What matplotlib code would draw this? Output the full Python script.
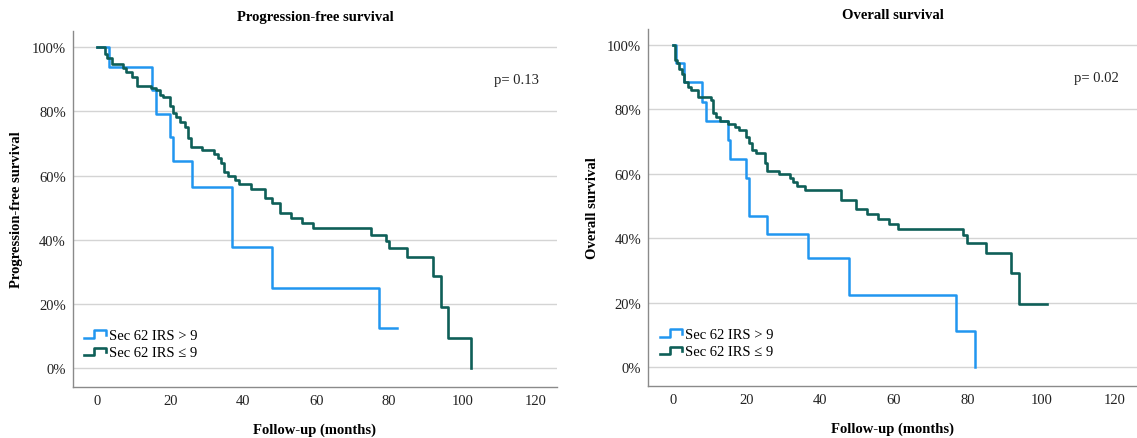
import matplotlib
matplotlib.use("Agg")
import matplotlib.pyplot as plt
from matplotlib.legend_handler import HandlerBase
from matplotlib.lines import Line2D

plt.rcParams["font.family"] = ["Liberation Serif", "DejaVu Serif"]

# Progression-free survival (months, % surviving)
pfs_high_t = [0, 3.2, 15, 16, 20, 20.8, 26, 37, 48, 77.2, 82]
pfs_high_s = [100, 93.8, 86.7, 79.2, 72.1, 64.5, 56.4, 37.7, 25.1, 12.5, 12.5]

pfs_low_t = [0, 2.0, 2.8, 4.0, 7.0, 8.0, 9.4, 11.0, 14.7, 16.0, 17.2, 18.0,
             20.0, 20.8, 21.6, 22.6, 24.0, 24.8, 25.8, 28.8, 32.0, 33.0, 34.0,
             34.8, 35.8, 37.8, 38.8, 42.0, 46.0, 48.0, 50.0, 53.0, 56.0, 59.0,
             75.0, 79.0, 80.0, 85.0, 92.0, 94.2, 96.0, 102.4]
pfs_low_s = [100, 97.8, 96.6, 94.8, 93.4, 92.2, 90.8, 88.0, 87.2, 86.5, 85.1, 84.4,
             81.5, 79.4, 78.1, 76.8, 75.2, 71.6, 69.0, 68.0, 66.7, 65.3, 63.8,
             61.2, 59.8, 58.6, 57.3, 55.8, 52.9, 51.4, 48.4, 46.8, 45.3, 43.7,
             41.6, 39.5, 37.3, 34.5, 28.7, 19.0, 9.4, 0]

# Overall survival
os_high_t = [0, 0.8, 3.0, 7.9, 8.9, 14.9, 15.6, 20.0, 20.8, 25.7, 36.8, 47.9, 76.8, 82.0]
os_high_s = [100, 94.3, 88.4, 82.3, 76.4, 70.6, 64.7, 58.8, 47.0, 41.2, 33.9, 22.5, 11.2, 0]

os_low_t = [0, 0.6, 1.2, 1.8, 2.4, 3.0, 4.0, 5.0, 6.9, 10.3, 10.9, 11.7, 12.7,
            15.0, 17.0, 18.0, 20.0, 20.8, 21.6, 22.6, 25.0, 25.5, 28.7, 31.7,
            32.7, 33.7, 35.8, 45.7, 49.7, 52.7, 55.6, 58.6, 61.1, 78.9, 79.9,
            84.9, 91.8, 94.0, 101.7]
os_low_s = [100, 95.3, 94.3, 92.5, 91.0, 88.6, 87.0, 86.0, 84.0, 82.8, 79.0, 77.6, 76.5,
            75.5, 74.5, 73.5, 71.5, 69.5, 67.5, 66.5, 63.5, 61.0, 60.0, 58.7,
            57.5, 56.3, 55.0, 52.0, 49.0, 47.5, 46.0, 44.5, 43.0, 41.0, 38.5,
            35.3, 29.3, 19.6, 19.6]

labels = ["Sec 62 IRS > 9", "Sec 62 IRS \u2264 9"]
p_values = ["p= 0.13", "p= 0.02"]
titles = ["Progression-free survival", "Overall survival"]
ylabels = ["Progression-free survival", "Overall survival"]

BLUE = "#2196f0"
GREEN = "#0e5f58"


class StepHandler(HandlerBase):
    # little step-shaped legend key like SPSS draws
    def create_artists(self, legend, orig_handle, xdescent, ydescent,
                       width, height, fontsize, trans):
        x0, y0 = -xdescent, -ydescent
        xs = [x0, x0 + 0.45 * width, x0 + 0.45 * width, x0 + width, x0 + width]
        ys = [y0 + 0.1 * height, y0 + 0.1 * height, y0 + 0.85 * height,
              y0 + 0.85 * height, y0 + 0.4 * height]
        line = Line2D(xs, ys, color=orig_handle.get_color(),
                      linewidth=orig_handle.get_linewidth(), transform=trans)
        return [line]


fig = plt.figure(figsize=(11.37, 4.39), dpi=100)
ax1 = fig.add_axes([0.064, 0.116, 0.426, 0.811])
ax2 = fig.add_axes([0.570, 0.118, 0.430, 0.814])

panels = [
    (ax1, pfs_high_t, pfs_high_s, pfs_low_t, pfs_low_s),
    (ax2, os_high_t, os_high_s, os_low_t, os_low_s),
]

for i, (ax, ht, hs, lt, ls) in enumerate(panels):
    h1, = ax.step(ht, hs, where="post", color=BLUE, linewidth=1.8, label=labels[0])
    h2, = ax.step(lt, ls, where="post", color=GREEN, linewidth=1.9, label=labels[1])

    ax.set_xlim(-6.7, 126)
    ax.set_ylim(-5.9, 105)
    ax.set_xticks([0, 20, 40, 60, 80, 100, 120])
    ax.set_yticks([0, 20, 40, 60, 80, 100])
    ax.set_yticklabels([f"{v}%" for v in [0, 20, 40, 60, 80, 100]])
    ax.tick_params(length=0, labelsize=10.5, pad=5, colors="#222222")
    ax.grid(axis="y", color="#d4d4d4", linewidth=1.0)
    ax.set_axisbelow(True)
    for side in ["top", "right"]:
        ax.spines[side].set_visible(False)
    for side in ["left", "bottom"]:
        ax.spines[side].set_color("#8a8a8a")
        ax.spines[side].set_linewidth(1.0)

    ax.set_title(titles[i], fontsize=10.5, fontweight="bold", pad=8)
    ax.set_xlabel("Follow-up (months)", fontsize=10.5, fontweight="bold", labelpad=11)
    ax.set_ylabel(ylabels[i], fontsize=10.5, fontweight="bold", labelpad=6)

    ax.text(121, 90, p_values[i], ha="right", va="center", fontsize=10.5, color="#222222")

    ax.legend(handles=[h1, h2], loc="lower left", bbox_to_anchor=(0.0, 0.045),
              frameon=False, fontsize=10.5, handlelength=1.5, handletextpad=0.2,
              labelspacing=0.3, borderpad=0.3,
              handler_map={Line2D: StepHandler()})

fig.savefig("out.png", dpi=100)
